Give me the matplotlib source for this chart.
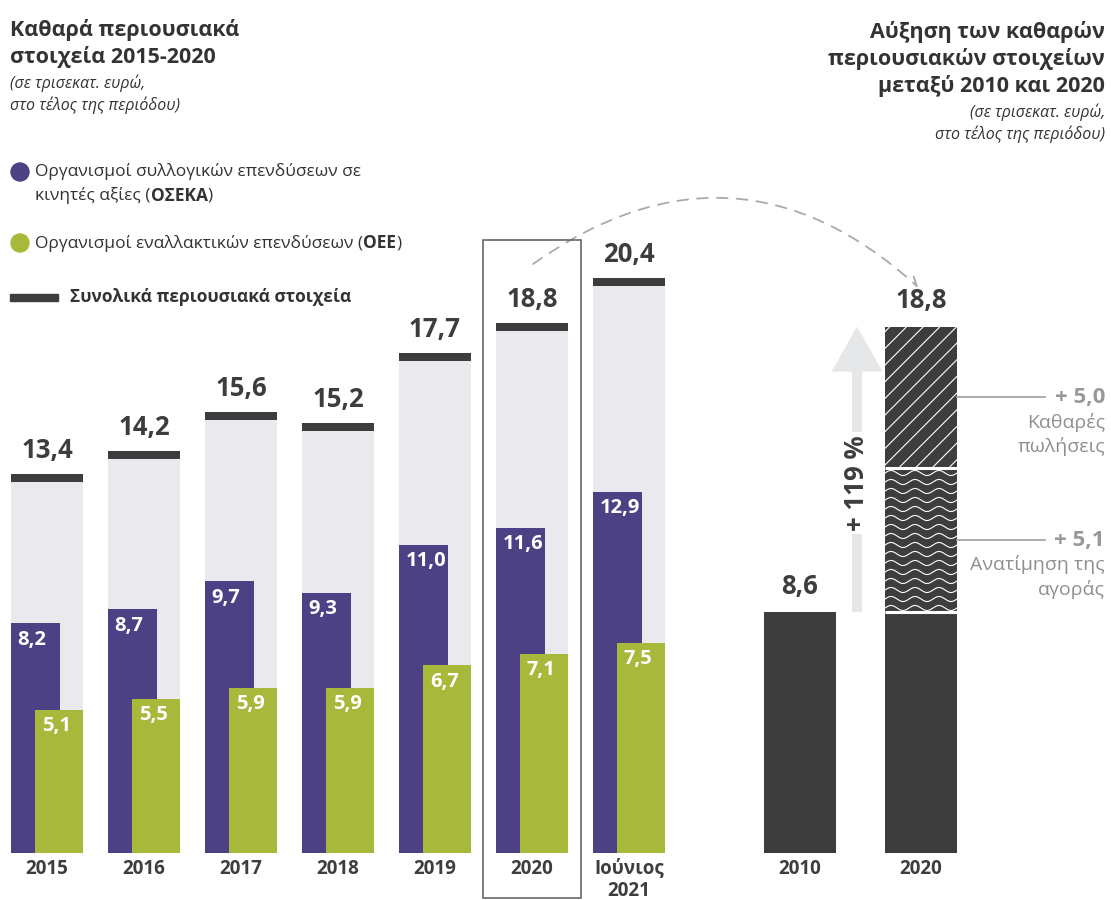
import numpy as np
import matplotlib.pyplot as plt
import matplotlib.patches as mpatches

plt.rcParams['font.family'] = ['Open Sans', 'DejaVu Sans']
plt.rcParams['hatch.linewidth'] = 0.8

# data (τρισεκατ. ευρώ, τέλος περιόδου)
years = ['2015', '2016', '2017', '2018', '2019', '2020', 'Ιούνιος\n2021']
total = [13.4, 14.2, 15.6, 15.2, 17.7, 18.8, 20.4]
oseka = [8.2, 8.7, 9.7, 9.3, 11.0, 11.6, 12.9]
oee = [5.1, 5.5, 5.9, 5.9, 6.7, 7.1, 7.5]

growth_years = ['2010', '2020']
assets_2010 = 8.6
assets_2020 = 18.8
revaluation = 5.1
net_sales = 5.0
growth_pct = 119

PURPLE = '#4d4185'
GREEN = '#a8b83a'
LIGHT = '#e9e9ee'
DARK = '#3d3d3d'
GREY_TXT = '#999999'

W, H = 1111, 900
fig = plt.figure(figsize=(W / 100, H / 100), dpi=100)
PX = fig.dpi_scale_trans


def px(x, y):
    # pixel position (from top-left) -> inches for dpi_scale_trans
    return x / 100, (H - y) / 100


def fmt(v):
    return f'{v:.1f}'.replace('.', ',')


# one axes over the whole width: 97 px per group, 28 px per unit
X0, XS, BASE, YS = 47, 97, 853, 28
ax = fig.add_axes([0, (H - BASE) / H, 1, BASE / H])
ax.set_xlim(-X0 / XS, (W - X0) / XS)
ax.set_ylim(0, BASE / YS)
ax.axis('off')

x = np.arange(len(years))
bw = 0.742
ax.bar(x, total, width=bw, color=LIGHT, zorder=1)
ax.bar(x, 0.29, bottom=np.array(total) - 0.145, width=bw, color=DARK, zorder=3)
ax.bar(x - 0.12, oseka, width=0.505, color=PURPLE, zorder=2)
ax.bar(x + 0.125, oee, width=0.495, color=GREEN, zorder=2)

for i in range(len(years)):
    ax.text(x[i], total[i] + 0.5, fmt(total[i]), ha='center', va='bottom',
            fontsize=18.5, fontweight='bold', color=DARK)
    ax.text(x[i] - 0.12 - 0.2525 + 0.07, oseka[i] - 0.22, fmt(oseka[i]),
            ha='left', va='top', fontsize=14.5, fontweight='bold', color='white', zorder=4)
    ax.text(x[i] + 0.125 - 0.2475 + 0.07, oee[i] - 0.22, fmt(oee[i]),
            ha='left', va='top', fontsize=14.5, fontweight='bold', color='white', zorder=4)
    ax.text(x[i], -0.2, years[i], ha='center', va='top', fontsize=13.5, fontweight='bold',
            color=DARK, linespacing=1.15)

# highlight box around 2020
ax.add_patch(mpatches.Rectangle((5 - 0.505, -1.6), 1.01, 23.5, fill=False, ec='#666666',
                                lw=1.2, clip_on=False, zorder=5))

# right panel: 2010 -> 2020, split into market revaluation and net sales
xr = np.array([(800 - X0) / XS, (921 - X0) / XS])
k = (assets_2020 - assets_2010) / (revaluation + net_sales)
y_rev = assets_2010 + revaluation * k
ax.bar(xr, [assets_2010, assets_2010], width=bw, color=DARK, zorder=2)
wave = ax.bar(xr[1], revaluation * k, bottom=assets_2010, width=bw, color=DARK, zorder=2)[0]
ax.bar(xr[1], net_sales * k, bottom=y_rev, width=bw, color=DARK, zorder=2)
ax.bar(xr[1], net_sales * k, bottom=y_rev, width=bw, facecolor='none',
       edgecolor='white', hatch='//', lw=0, zorder=3)

# wavy pattern on the revaluation segment
xs = np.linspace(xr[1] - bw / 2, xr[1] + bw / 2, 200)
for yy in np.arange(assets_2010 + 0.15, y_rev + 0.3, 9 / YS):
    ln, = ax.plot(xs, yy + 0.09 * np.sin(2 * np.pi * (xs - xs[0]) / (24 / XS)), color='white',
                  lw=0.8, zorder=3)
    ln.set_clip_path(wave)

ax.hlines([assets_2010, y_rev], xr[1] - bw / 2, xr[1] + bw / 2,
          color='white', lw=2.2, zorder=4)

ax.text(xr[0], assets_2010 + 0.45, fmt(assets_2010), ha='center',
        va='bottom', fontsize=18.5, fontweight='bold', color=DARK)
ax.text(xr[1], assets_2020 + 0.45, fmt(assets_2020), ha='center',
        va='bottom', fontsize=18.5, fontweight='bold', color=DARK)
for i in range(2):
    ax.text(xr[i], -0.2, growth_years[i], ha='center', va='top', fontsize=13.5,
            fontweight='bold', color=DARK)

# growth arrow
xa = (857 - X0) / XS
ax.add_patch(mpatches.FancyArrow(xa, assets_2010, 0, assets_2020 - assets_2010, width=10 / XS,
                                 head_width=51 / XS, head_length=45 / YS,
                                 length_includes_head=True, color='#e6e7e9', lw=0, zorder=1))
ax.text(xa, (BASE - 483) / YS, f'+ {growth_pct} %', rotation=90, ha='center', va='center',
        fontsize=18.5, fontweight='bold', color=DARK, zorder=3,
        bbox=dict(fc='white', ec='none', pad=2))

# contributions
xl0, xl1, xt = xr[1] + bw / 2, (1045 - X0) / XS, (1105 - X0) / XS
for mid, val, desc in [((y_rev + assets_2020) / 2, net_sales, 'Καθαρές\nπωλήσεις'),
                       ((assets_2010 + y_rev) / 2, revaluation, 'Ανατίμηση της\nαγοράς')]:
    ax.plot([xl0, xl1], [mid, mid], color='#a6a6a6', lw=1.3)
    ax.text(xt, mid, '+ ' + fmt(val), ha='right', va='center', fontsize=16,
            fontweight='bold', color=GREY_TXT)
    ax.text(xt, mid - 0.55, desc, ha='right', va='top', fontsize=14, color='#8f8f8f',
            linespacing=1.35)

# dashed arc from 2020 to the right panel
ax.annotate('', xy=((918 - X0) / XS, (BASE - 287) / YS), xytext=((533 - X0) / XS, (BASE - 264) / YS),
            arrowprops=dict(arrowstyle='->,head_length=0.6,head_width=0.35', color='#aaaaaa',
                            lw=1.3, ls=(0, (6, 5)), connectionstyle='arc3,rad=-0.4',
                            shrinkA=0, shrinkB=0))

# titles
fig.text(*px(10, 63), 'Καθαρά περιουσιακά\nστοιχεία 2015-2020', transform=PX, ha='left',
         va='baseline', fontsize=15.5, fontweight='bold', color='#333333', linespacing=1.3)
fig.text(*px(10, 110), '(σε τρισεκατ. ευρώ,\nστο τέλος της περιόδου)', transform=PX, ha='left',
         va='baseline', fontsize=11.5, style='italic', color='#333333', linespacing=1.3)

fig.text(*px(1105, 92), 'Αύξηση των καθαρών\nπεριουσιακών στοιχείων\nμεταξύ 2010 και 2020',
         transform=PX, ha='right', va='baseline', fontsize=15.5, fontweight='bold',
         color='#333333', linespacing=1.3)
fig.text(*px(1105, 139), '(σε τρισεκατ. ευρώ,\nστο τέλος της περιόδου)', transform=PX,
         ha='right', va='baseline', fontsize=11.5, style='italic', color='#333333',
         linespacing=1.3)

# legend
renderer = fig.canvas.get_renderer()


def rich_line(x0, y0, parts, size=12.5):
    xcur = x0
    for s, bold in parts:
        t = fig.text(*px(xcur, y0), s, transform=PX, ha='left', va='center', fontsize=size,
                     fontweight='bold' if bold else 'normal', color='#333333')
        xcur += t.get_window_extent(renderer).width


fig.add_artist(mpatches.Circle(px(20, 172), 0.09, transform=PX, color=PURPLE))
rich_line(35, 172, [('Οργανισμοί συλλογικών επενδύσεων σε', False)])
rich_line(35, 196, [('κινητές αξίες (', False), ('ΟΣΕΚΑ', True), (')', False)])
fig.add_artist(mpatches.Circle(px(20, 243), 0.09, transform=PX, color=GREEN))
rich_line(35, 243, [('Οργανισμοί εναλλακτικών επενδύσεων (', False), ('ΟΕΕ', True), (')', False)])
fig.add_artist(mpatches.Rectangle(px(10, 301), 0.48, 0.075, transform=PX, color=DARK))
fig.text(*px(70, 297), 'Συνολικά περιουσιακά στοιχεία', transform=PX, ha='left', va='center',
         fontsize=12.5, fontweight='bold', color='#333333')

plt.savefig('out.png', dpi=100)
